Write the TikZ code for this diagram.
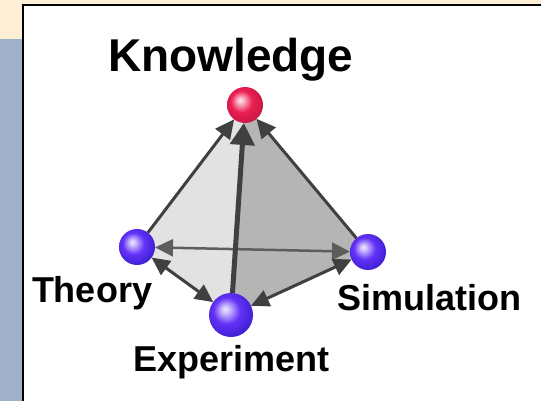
\documentclass[tikz,border=0pt]{standalone}
\usepackage{fontspec}
\setmainfont{Liberation Sans}
\usepackage{xcolor}
\usetikzlibrary{arrows.meta}
\definecolor{paper}{RGB}{252,239,214}
\definecolor{sidebar}{RGB}{159,176,200}
\definecolor{lightface}{RGB}{226,226,226}
\definecolor{darkface}{RGB}{181,181,181}
\definecolor{edgegray}{RGB}{64,64,64}
\definecolor{orbred}{RGB}{236,30,82}
\definecolor{orbblue}{RGB}{100,50,248}
\newcommand{\lblfont}{\fontsize{36}{40}\selectfont\bfseries}
\newcommand{\ttlfont}{\fontsize{46}{50}\selectfont\bfseries}
\pgfdeclareradialshading{bluesphere}{\pgfqpoint{-7bp}{7bp}}{%
  color(0bp)=(orbblue!12!white); color(4bp)=(orbblue!30!white);
  color(15bp)=(orbblue); color(28bp)=(orbblue!75!blue!85!black);
  color(50bp)=(orbblue!60!black)}
\pgfdeclareradialshading{redsphere}{\pgfqpoint{-7bp}{7bp}}{%
  color(0bp)=(orbred!12!white); color(4bp)=(orbred!30!white);
  color(15bp)=(orbred); color(28bp)=(orbred!85!black);
  color(50bp)=(orbred!60!black)}
\pgfdeclarelayer{backdrop}
\pgfdeclarelayer{faces}
\pgfsetlayers{backdrop,faces,main}

\begin{document}
\begin{tikzpicture}[x=1pt, y=-1pt,
  orb/.style={circle, inner sep=0pt, minimum size=36pt, shading=bluesphere},
  redorb/.style={orb, shading=redsphere},
  edgearrow/.style={draw=edgegray, line width=3pt, -{Triangle[length=19pt, width=18pt]}},
  twoway/.style={draw=edgegray, line width=3pt, {Triangle[length=18pt, width=17pt]}-{Triangle[length=18pt, width=17pt]}},
  every node/.style={inner sep=0pt, outer sep=0pt}]
\useasboundingbox (0,0) rectangle (541,401);
% ---- slide background
\begin{pgfonlayer}{backdrop}
\fill[paper] (0,0) rectangle (541,401);
\fill[sidebar] (0,39) rectangle (23,401);
\draw[black, line width=2pt, fill=white] (23,5) -- (545,5) -- (545,405) -- (23,405) -- cycle;
\end{pgfonlayer}
% ---- balls
\node[redorb] (know) at (245,105) {};
\node[orb] (theo) at (137,247) {};
\node[orb] (simu) at (368,252) {};
\node[orb, minimum size=44pt] (expe) at (231,315) {};
% ---- faces and connectors, behind the balls
\begin{pgfonlayer}{faces}
\fill[lightface] (theo.center) -- (know.center) -- (expe.center) -- cycle;
\fill[darkface] (know.center) -- (simu.center) -- (expe.center) -- cycle;
\draw[twoway, draw=edgegray!85!white, line width=2.5pt] (theo) -- (simu);
\draw[twoway] (theo) -- (expe);
\draw[twoway] (expe) -- (simu);
\draw[edgearrow] (theo) -- (know);
\draw[edgearrow] (simu) -- (know);
\draw[edgearrow, line width=5pt, -{Triangle[length=22pt, width=24pt]}] (expe) -- (know);
\end{pgfonlayer}
% ---- labels
\node[anchor=base west, font=\ttlfont] (knowlbl) at (108,72) {Knowledge};
\node[anchor=base west, font=\lblfont] (theolbl) at (32,302) {Theory};
\node[anchor=base west, font=\lblfont] (simulbl) at (337,310) {Simulation};
\node[anchor=base west, font=\lblfont] (expelbl) at (133,371) {Experiment};
\end{tikzpicture}
\end{document}
